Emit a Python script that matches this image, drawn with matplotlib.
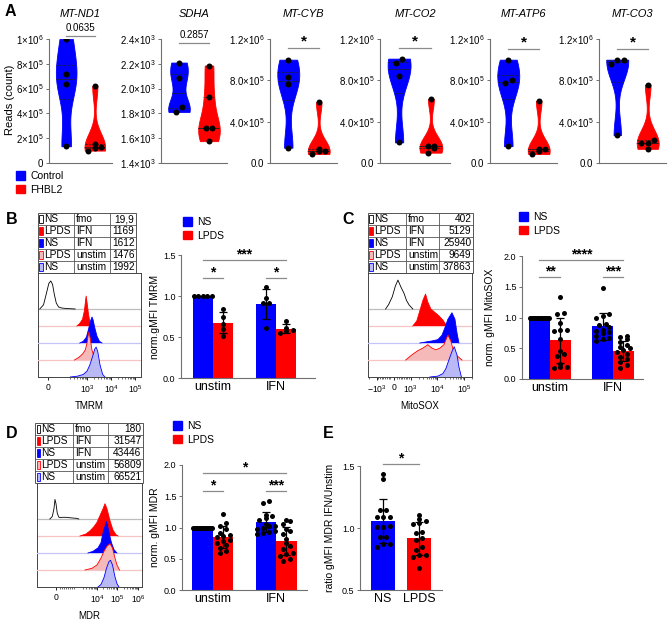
import numpy as np
import matplotlib
matplotlib.use("Agg")
import matplotlib.pyplot as plt
from matplotlib.patches import Patch, Rectangle
from matplotlib.ticker import SymmetricalLogLocator, NullFormatter

plt.rcParams['font.family'] = ['Liberation Sans', 'DejaVu Sans']
plt.rcParams['mathtext.fontset'] = 'custom'
plt.rcParams['mathtext.rm'] = 'Liberation Sans'
plt.rcParams['mathtext.it'] = 'Liberation Sans:italic'
plt.rcParams['mathtext.bf'] = 'Liberation Sans:bold'

W, H = 669, 619
BLUE, RED = '#0000ff', '#ff0000'
LBLUE, LRED = '#b9b9f5', '#f5b9b9'
AXC = '#707070'
SIGC = '#8a8a8a'

# ---------------- panel A: reads per gene ----------------
genes = ["MT-ND1", "SDHA", "MT-CYB", "MT-CO2", "MT-ATP6", "MT-CO3"]
ctrl_reads = [
    [1.0e6, 7.2e5, 6.4e5, 1.35e5],
    [2210, 2085, 1850, 1812],
    [1.0e6, 8.35e5, 7.6e5, 1.48e5],
    [1.01e6, 9.7e5, 8.4e5, 2.0e5],
    [1.0e6, 8.0e5, 7.7e5, 1.63e5],
    [1.0e6, 1.0e6, 9.55e5, 2.7e5],
]
fhbl2_reads = [
    [6.2e5, 1.5e5, 1.3e5, 1.25e5, 1.0e5],
    [2186, 1932, 1684, 1684, 1576],
    [5.88e5, 1.36e5, 1.17e5, 1.15e5, 0.87e5],
    [6.2e5, 1.68e5, 1.65e5, 1.46e5, 1.0e5],
    [6.0e5, 1.38e5, 1.32e5, 1.16e5, 0.87e5],
    [7.57e5, 2.22e5, 1.97e5, 1.95e5, 1.37e5],
]
a_pvalues = ["0.0635", "0.2857", "*", "*", "*", "*"]
a_ylims = [(0, 1e6), (1400, 2400), (0, 1.2e6), (0, 1.2e6), (0, 1.2e6), (0, 1.2e6)]
a_yticks = [
    [0, 2e5, 4e5, 6e5, 8e5, 1e6],
    [1400, 1600, 1800, 2000, 2200, 2400],
    [0, 4e5, 8e5, 1.2e6], [0, 4e5, 8e5, 1.2e6], [0, 4e5, 8e5, 1.2e6], [0, 4e5, 8e5, 1.2e6],
]
sci6 = ["0.0", r"$\mathregular{4.0{\times}10^{5}}$", r"$\mathregular{8.0{\times}10^{5}}$",
        r"$\mathregular{1.2{\times}10^{6}}$"]
a_yticklabels = [
    ["0", r"$\mathregular{2{\times}10^{5}}$", r"$\mathregular{4{\times}10^{5}}$",
     r"$\mathregular{6{\times}10^{5}}$", r"$\mathregular{8{\times}10^{5}}$",
     r"$\mathregular{1{\times}10^{6}}$"],
    [r"$\mathregular{%s{\times}10^{3}}$" % s for s in ["1.4", "1.6", "1.8", "2.0", "2.2", "2.4"]],
    sci6, sci6, sci6, sci6,
]

# ---------------- flow histograms (B, C, D) ----------------
table_rows = [("NS", "fmo"), ("LPDS", "IFN"), ("NS", "IFN"), ("LPDS", "unstim"), ("NS", "unstim")]
b_gmfi = ["19,9", "1169", "1612", "1476", "1992"]
c_gmfi = ["402", "5129", "25940", "9649", "37863"]
d_gmfi = ["180", "31547", "43446", "56809", "66521"]

tmrm_x = [
    [-55, -30, -10, 5, 18, 30, 42, 55, 70, 90, 140, 320],
    [380, 500, 650, 780, 870, 920, 1000, 1150, 1350, 1650],
    [500, 700, 950, 1150, 1400, 1620, 1800, 2100, 2600, 3300, 4200],
    [300, 450, 650, 850, 1000, 1100, 1210, 1350, 1600, 2000, 2600],
    [200, 400, 700, 1000, 1300, 1700, 2100, 2400, 2800, 3500, 4500, 5600],
]
tmrm_y = [
    [0, 0.25, 0.95, 1.5, 1.65, 1.45, 0.85, 0.35, 0.12, 0.06, 0.03, 0],
    [0, 0.15, 0.4, 0.9, 1.5, 1.76, 1.4, 0.7, 0.15, 0],
    [0, 0.1, 0.35, 0.8, 1.3, 1.53, 1.35, 0.9, 0.4, 0.1, 0],
    [0, 0.15, 0.35, 0.6, 1.0, 1.4, 1.65, 1.3, 0.6, 0.15, 0],
    [0, 0.05, 0.15, 0.35, 0.7, 1.2, 1.65, 1.76, 1.5, 0.7, 0.15, 0],
]
mito_x = [
    [-470, -300, -80, 100, 250, 420, 606, 750, 900, 1190],
    [1190, 1680, 2190, 2840, 3590, 4380, 5690, 8050, 11400, 16100, 22700],
    [2190, 3370, 6200, 10400, 14800, 19200, 24900, 35300, 45700, 54500, 64500],
    [700, 1090, 1840, 2840, 4380, 6200, 8770, 12400, 17600, 24900, 32400, 42000, 59300, 84000],
    [5200, 10400, 16100, 20900, 27000, 35300, 43000, 54500, 64500, 80000],
]
mito_y = [
    [0, 0.25, 0.72, 1.35, 1.7, 1.3, 0.92, 0.5, 0.24, 0],
    [0, 0.3, 0.9, 1.5, 1.88, 1.4, 1.0, 0.8, 0.6, 0.35, 0],
    [0, 0.05, 0.12, 0.2, 0.45, 0.9, 1.4, 1.78, 1.4, 0.6, 0],
    [0, 0.3, 0.55, 0.7, 0.9, 0.7, 0.6, 0.7, 0.9, 1.47, 1.1, 0.4, 0.2, 0],
    [0, 0.05, 0.2, 0.5, 1.0, 1.5, 1.78, 1.3, 0.6, 0],
]
mdr_x = [
    [-300, -180, -100, -50, 0, 60, 130, 200, 300, 500, 700, 1000, 1300],
    [1480, 2910, 4550, 7130, 9990, 14000, 19700, 24600, 30800, 43100, 60300, 84400, 106000],
    [3640, 6370, 11200, 15600, 20700, 29700, 38500, 50900, 67400, 94400],
    [2600, 5700, 9990, 15600, 21900, 30800, 43100, 56900, 75500, 94400, 125000],
    [11200, 15600, 21900, 29000, 38500, 45600, 56900, 75500, 94400, 118000],
]
mdr_y = [
    [0, 0.15, 0.6, 1.15, 0.9, 0.35, 0.12, 0.08, 0.1, 0.1, 0.07, 0.04, 0],
    [0, 0.12, 0.3, 0.55, 0.8, 1.2, 1.6, 1.9, 1.6, 0.9, 0.35, 0.08, 0],
    [0, 0.1, 0.3, 0.6, 1.3, 1.85, 1.2, 0.6, 0.2, 0],
    [0, 0.1, 0.3, 0.7, 1.1, 1.4, 1.55, 1.3, 0.7, 0.3, 0],
    [0, 0.15, 0.55, 1.1, 1.5, 1.57, 1.3, 0.6, 0.2, 0],
]

# ---------------- bar charts (B, C, D, E) ----------------
b_ns_unstim = [1.0, 1.0, 1.0, 1.0, 1.0]
b_lpds_unstim = [0.84, 0.75, 0.66, 0.60, 0.51]
b_ns_ifn = [1.11, 0.98, 0.91, 0.91, 0.61]
b_lpds_ifn = [0.69, 0.61, 0.59, 0.57, 0.55]

c_ns_unstim = [1.0, 1.0, 1.0, 1.0, 1.0, 1.0, 1.0, 1.0, 1.0, 1.0, 1.0, 1.0, 1.0, 1.0, 1.0]
c_lpds_unstim = [1.33, 1.07, 1.05, 0.91, 0.80, 0.80, 0.78, 0.65, 0.45, 0.40, 0.38, 0.25, 0.20, 0.19, 0.18]
c_ns_ifn = [1.48, 1.05, 1.03, 1.00, 0.90, 0.88, 0.84, 0.80, 0.78, 0.76, 0.74, 0.70, 0.66, 0.65, 0.62]
c_lpds_ifn = [0.70, 0.68, 0.65, 0.60, 0.56, 0.52, 0.50, 0.47, 0.44, 0.40, 0.36, 0.32, 0.28, 0.22, 0.18]

d_ns_unstim = [1.0, 1.0, 1.0, 1.0, 1.0, 1.0, 1.0, 1.0, 1.0, 1.0, 1.0, 1.0, 1.0, 1.0, 1.0]
d_lpds_unstim = [1.22, 1.08, 1.03, 0.98, 0.92, 0.88, 0.86, 0.85, 0.80, 0.78, 0.75, 0.72, 0.68, 0.62, 0.60]
d_ns_ifn = [1.43, 1.40, 1.20, 1.18, 1.15, 1.12, 1.05, 1.03, 1.02, 1.00, 0.98, 0.95, 0.93, 0.92, 0.90]
d_lpds_ifn = [1.12, 1.10, 1.05, 0.98, 0.95, 0.90, 0.82, 0.75, 0.70, 0.65, 0.60, 0.57, 0.55, 0.50, 0.47]

e_ns = [1.435, 1.395, 1.145, 1.145, 1.09, 1.09, 1.09, 1.02, 1.005, 1.005, 0.93, 0.93, 0.87, 0.87, 0.845]
e_lpds = [1.105, 1.07, 1.06, 1.04, 1.03, 0.97, 0.96, 0.92, 0.90, 0.85, 0.82, 0.78, 0.78, 0.77, 0.675]

stim_labels = ["unstim", "IFN"]
b_sig = [("*", 1.223), ("*", 1.223), ("***", 1.443)]
c_sig = [("**", 1.652), ("***", 1.652), ("****", 1.93)]
d_sig = [("*", 1.584), ("***", 1.584), ("*", 1.867)]

# trace / swatch styles, top row to bottom row
STYLES = [
    dict(fill=None, edge='black', base='#bdbdbd', sw='white'),
    dict(fill=RED, edge=RED, base='#f7c4c4', sw=RED),
    dict(fill=BLUE, edge=BLUE, base='#c4c4f7', sw=BLUE),
    dict(fill=LRED, edge=RED, base='#f7c4c4', sw=LRED),
    dict(fill=LBLUE, edge=BLUE, base='#c4c4f7', sw=LBLUE),
]

fig = plt.figure(figsize=(W / 100, H / 100), dpi=100)


def add_px_axes(x0, y0, x1, y1):
    return fig.add_axes([x0 / W, 1 - y1 / H, (x1 - x0) / W, (y1 - y0) / H])


def fig_text(x, y, s, **kw):
    fig.text(x / W, 1 - y / H, s, **kw)


def swarm(vals, ylim, h_px, step_px, row_px, max_half_px):
    """GraphPad-like rows: points within one row height are spread symmetrically."""
    vals = np.asarray(vals, float)
    ypx = (vals - ylim[0]) / (ylim[1] - ylim[0]) * h_px
    order = np.argsort(ypx)
    off = np.zeros(len(vals))
    i = 0
    while i < len(order):
        j = i
        while j + 1 < len(order) and ypx[order[j + 1]] - ypx[order[i]] < row_px:
            j += 1
        grp = order[i:j + 1]
        n = len(grp)
        step = step_px
        if (n - 1) / 2 * step > max_half_px:
            step = 2 * max_half_px / max(n - 1, 1)
        for k, g in enumerate(grp):
            off[g] = (k - (n - 1) / 2) * step
        i = j + 1
    return off


def style_axis(ax, fs=6.5):
    for s in ("top", "right"):
        ax.spines[s].set_visible(False)
    for s in ("left", "bottom"):
        ax.spines[s].set_color(AXC)
        ax.spines[s].set_linewidth(0.8)
    ax.tick_params(axis='y', length=2.5, width=0.7, color=AXC, labelsize=fs, pad=1.5)
    ax.tick_params(axis='x', length=0, labelsize=9, pad=2)


# ---------------- panel A ----------------
a_xs = [(49, 112), (161, 227), (270, 337), (380, 450), (490, 557), (599, 666)]
a_sig_frac = [1.024, 0.97, 0.928, 0.928, 0.917, 0.917]
A_TOP, A_BOT = 39, 163
for k, (x0, x1) in enumerate(a_xs):
    ax = add_px_axes(x0, A_TOP, x1, A_BOT)
    style_axis(ax, fs=7)
    ax.set_xlim(0.4, 2.6)
    ax.set_ylim(*a_ylims[k])
    ax.set_xticks([])
    ax.set_yticks(a_yticks[k])
    ax.set_yticklabels(a_yticklabels[k])
    groups = [ctrl_reads[k], fhbl2_reads[k]]
    parts = ax.violinplot(groups, positions=[1, 2], widths=0.72, bw_method=0.5,
                          showextrema=False)
    px_per_x = (x1 - x0) / 2.2
    for pos, body, col, vals in zip([1, 2], parts['bodies'], [BLUE, RED], groups):
        body.set_facecolor(col)
        body.set_edgecolor(col)
        body.set_alpha(1)
        body.set_linewidth(0.6)
        q1, med, q3 = np.percentile(vals, [25, 50, 75])
        ln = ax.hlines([q1, med, q3], pos - 0.5, pos + 0.5, colors='#202020',
                       linestyles=['--', '-', '--'], lw=0.5, zorder=3)
        ln.set_clip_path(body.get_paths()[0], ax.transData)
        off = swarm(vals, a_ylims[k], A_BOT - A_TOP, 6.5, 5.0, 12)
        ax.plot(pos + off / px_per_x, vals, 'o', color='black', ms=4.3, mew=0, zorder=4)
    ys = a_sig_frac[k]
    ax.plot([1, 2], [ys, ys], transform=ax.get_xaxis_transform(), color=SIGC, lw=0.9,
            clip_on=False)
    if a_pvalues[k] == "*":
        ax.text(1.5, ys - 0.005, "*", transform=ax.get_xaxis_transform(), ha='center',
                va='bottom', fontsize=11, fontweight='bold')
    else:
        ax.text(1.5, ys + 0.025, a_pvalues[k], transform=ax.get_xaxis_transform(),
                ha='center', va='bottom', fontsize=7)
    ax.text(0.5, 1 + (A_TOP - 14) / (A_BOT - A_TOP), genes[k], transform=ax.transAxes,
            ha='center', va='center', fontsize=8, fontstyle='italic')

fig_text(10, 100, "Reads (count)", rotation=90, ha='center', va='center', fontsize=8)
fig.legend(handles=[Patch(color=BLUE, label='Control'), Patch(color=RED, label='FHBL2')],
           loc='upper left', bbox_to_anchor=(16 / W, 1 - 171 / H), bbox_transform=fig.transFigure,
           frameon=False, fontsize=7.5, handlelength=0.9, handleheight=0.9, handletextpad=0.5,
           borderpad=0, borderaxespad=0, labelspacing=0.35)


# ---------------- tables + histograms ----------------
def draw_table(box, cols, gmfi):
    x0, y0, x1, y1 = box
    ax = add_px_axes(*box)
    ax.set_xlim(x0, x1)
    ax.set_ylim(y1, y0)
    ax.axis('off')
    lc = '#555555'
    rh = (y1 - y0) / len(table_rows)
    ax.add_patch(Rectangle((x0, y0), x1 - x0, y1 - y0, fill=False, lw=0.7, ec=lc, clip_on=False))
    for i in range(1, len(table_rows)):
        ax.plot([x0, x1], [y0 + i * rh] * 2, color=lc, lw=0.6)
    for c in cols:
        ax.plot([c, c], [y0, y1], color=lc, lw=0.6)
    for i, ((grp, stim), val) in enumerate(zip(table_rows, gmfi)):
        yc = y0 + (i + 0.5) * rh
        st = STYLES[i]
        ax.add_patch(Rectangle((x0 + 1.5, yc - 3.8), 3.2, 7.6, fc=st['sw'], ec=st['edge'], lw=0.6))
        ax.text(x0 + 6.5, yc + 0.5, grp, ha='left', va='center', fontsize=7.3)
        ax.text(cols[0] + 2, yc + 0.5, stim, ha='left', va='center', fontsize=7.3)
        ax.text(x1 - 1.5, yc + 0.5, val, ha='right', va='center', fontsize=7.3)


def draw_hist(box, xs_list, ys_list, linthresh, linscale, xlim, ticks, ticklabels, xlabel):
    x0, y0, x1, y1 = box
    ax = add_px_axes(*box)
    ax.set_xscale('symlog', linthresh=linthresh, linscale=linscale)
    ax.set_xlim(*xlim)
    ax.set_ylim(0, (y1 - y0) / 17.0)
    n = len(xs_list)
    for i, (xs, ys) in enumerate(zip(xs_list, ys_list)):
        base = n - 1 - i
        st = STYLES[i]
        if base > 0:
            ax.axhline(base, color=st['base'], lw=0.9, zorder=2 * i)
        top = base + np.asarray(ys, float)
        if st['fill']:
            ax.fill_between(xs, base, top, facecolor=st['fill'], edgecolor='none', zorder=2 * i + 1)
        ax.plot(xs, top, color=st['edge'], lw=0.6, zorder=2 * i + 1)
    for s in ax.spines.values():
        s.set_linewidth(0.7)
        s.set_color('#444444')
    ax.set_yticks([])
    ax.set_xticks(ticks)
    ax.set_xticklabels(ticklabels)
    ax.xaxis.set_minor_locator(SymmetricalLogLocator(linthresh=linthresh, base=10,
                                                     subs=np.arange(2, 10)))
    ax.xaxis.set_minor_formatter(NullFormatter())
    ax.tick_params(axis='x', which='major', length=2.5, width=0.6, labelsize=6.2, pad=2)
    ax.tick_params(axis='x', which='minor', length=1.5, width=0.4)
    ax.set_xlabel(xlabel, fontsize=7, labelpad=4)
    return ax


draw_table((38, 213, 136, 273), [74, 110], b_gmfi)
draw_hist((38, 273, 141, 377), tmrm_x, tmrm_y, 100, 0.5625, (-67, 1.78e5),
          [0, 1e3, 1e4, 1e5], ["0", r"$10^3$", r"$10^4$", r"$10^5$"], "TMRM")
draw_table((368, 213, 473, 273), [406, 439], c_gmfi)
draw_hist((368, 273, 472, 377), mito_x, mito_y, 1000, 0.58, (-2090, 2.0e5),
          [-1e3, 0, 1e3, 1e4, 1e5], [r"$-10^3$", "0", r"$10^3$", r"$10^4$", r"$10^5$"], "MitoSOX")
draw_table((35, 423, 143, 483), [73, 107.5], d_gmfi)
draw_hist((37, 483, 142, 587), mdr_x, mdr_y, 1000, 0.9, (-927, 1.57e6),
          [0, 1e4, 1e5, 1e6], ["0", r"$10^4$", r"$10^5$", r"$10^6$"], "MDR")


# ---------------- bar charts ----------------
def bar_panel(box, centers, bar_w, groups, ylim, yticks, yticklabels, ylabel, ylabel_x,
              xlabels, sigs, xlim, step_px=6.5):
    x0, y0, x1, y1 = box
    ax = add_px_axes(*box)
    style_axis(ax)
    ax.set_xlim(*xlim)
    ax.set_ylim(*ylim)
    ax.set_yticks(yticks)
    ax.set_yticklabels(yticklabels)
    ax.set_xticks(centers)
    ax.set_xticklabels(xlabels)
    px_per_x = (x1 - x0) / (xlim[1] - xlim[0])
    for pos, vals, col in groups:
        vals = np.asarray(vals, float)
        m, sd = vals.mean(), vals.std(ddof=1)
        ax.bar(pos, m, width=bar_w, color=col, lw=0, zorder=2)
        off = swarm(vals, ylim, y1 - y0, step_px, 4.2, bar_w * px_per_x / 2 - 1)
        ax.plot(pos + off / px_per_x, vals, 'o', color='black', ms=3.6, mew=0, zorder=3,
                clip_on=False)
        if sd > 0:
            ax.errorbar(pos, m, yerr=sd, fmt='none', ecolor='black', elinewidth=0.9,
                        capsize=3, capthick=0.9, zorder=4)
    for (xa, xb), (lab, lev) in sigs:
        ax.plot([xa, xb], [lev, lev], color=SIGC, lw=0.9, clip_on=False)
        ax.text((xa + xb) / 2, lev - (ylim[1] - ylim[0]) * 0.012, lab, ha='center', va='bottom',
                fontsize=10, fontweight='bold', clip_on=False)
    ax.set_ylabel(ylabel, fontsize=7.5)
    ax.yaxis.set_label_coords((ylabel_x - x0) / (x1 - x0), 0.5)
    return ax


def bar_legend(x, y):
    fig.legend(handles=[Patch(color=BLUE, label='NS'), Patch(color=RED, label='LPDS')],
               loc='upper left', bbox_to_anchor=(x / W, 1 - y / H), bbox_transform=fig.transFigure,
               frameon=False, fontsize=7.5, handlelength=0.9, handleheight=0.9,
               handletextpad=0.5, borderpad=0, borderaxespad=0, labelspacing=0.35)


def four_bars(w, ns_u, lp_u, ns_i, lp_i):
    return [(-w / 2, ns_u, BLUE), (w / 2, lp_u, RED), (1 - w / 2, ns_i, BLUE), (1 + w / 2, lp_i, RED)]


def sig_pairs(w, sig):
    pairs = [(-w / 2, w / 2), (1 - w / 2, 1 + w / 2), (-w / 2, 1 + w / 2)]
    return list(zip(pairs, sig))


wb = 0.325
bar_panel((181, 255, 315, 378), [0, 1], wb, four_bars(wb, b_ns_unstim, b_lpds_unstim, b_ns_ifn, b_lpds_ifn),
          (0, 1.5), [0, 0.5, 1.0, 1.5], ["0.0", "0.5", "1.0", "1.5"], "norm.gMFI TMRM", 160,
          stim_labels, sig_pairs(wb, b_sig), (-0.508, 1.619))
bar_legend(183, 217)

wc = 0.333
bar_panel((522, 256, 643, 379), [0, 1], wc, four_bars(wc, c_ns_unstim, c_lpds_unstim, c_ns_ifn, c_lpds_ifn),
          (0, 2.0), [0, 0.5, 1.0, 1.5, 2.0], ["0.0", "0.5", "1.0", "1.5", "2.0"], "norm. gMFI MitoSOX", 495,
          stim_labels, sig_pairs(wc, c_sig), (-0.444, 1.476))
bar_legend(519, 212)

wd = 0.325
bar_panel((182, 465, 307, 590), [0, 1], wd, four_bars(wd, d_ns_unstim, d_lpds_unstim, d_ns_ifn, d_lpds_ifn),
          (0, 2.0), [0, 0.5, 1.0, 1.5, 2.0], ["0.0", "0.5", "1.0", "1.5", "2.0"], "norm. gMFI MDR", 160,
          stim_labels, sig_pairs(wd, d_sig), (-0.49, 1.49))
bar_legend(173, 421)

we = 0.667
bar_panel((360, 466, 442, 590), [0, 1], we, [(0, e_ns, BLUE), (1, e_lpds, RED)],
          (0.5, 1.5), [0.5, 1.0, 1.5], ["0.5", "1.0", "1.5"], "ratio gMFI MDR IFN/Unstim", 335,
          ["NS", "LPDS"], [((0, 1), ("*", 1.514))], (-0.64, 1.63), step_px=6.5)

# panel letters
for letter, x, y in [("A", 10, 12), ("B", 12, 219), ("C", 348, 219), ("D", 12, 434), ("E", 328, 434)]:
    fig_text(x, y, letter, ha='center', va='center', fontsize=11.5, fontweight='bold')

fig.savefig("out.png", dpi=100)
